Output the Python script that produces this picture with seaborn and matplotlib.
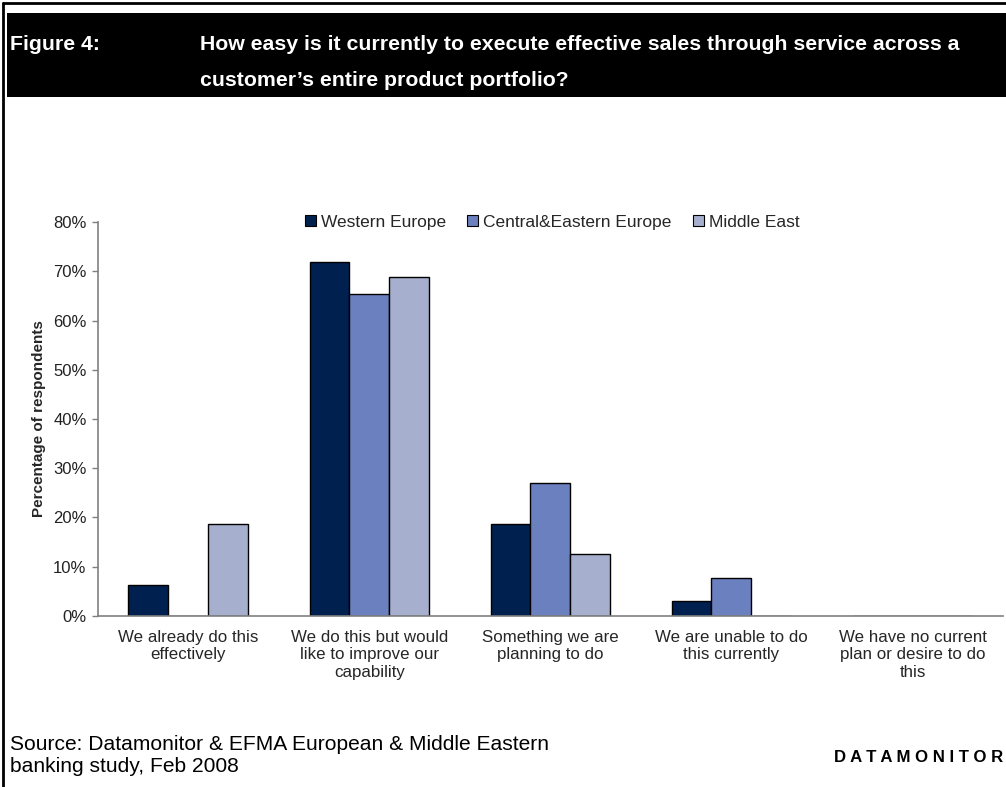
import matplotlib
matplotlib.use("Agg")
import matplotlib.pyplot as plt
from matplotlib.patches import Rectangle
from matplotlib.lines import Line2D
import seaborn as sns
import pandas as pd
import numpy as np

categories = [
    "We already do this\neffectively",
    "We do this but would\nlike to improve our\ncapability",
    "Something we are\nplanning to do",
    "We are unable to do\nthis currently",
    "We have no current\nplan or desire to do\nthis",
]
regions = ["Western Europe", "Central&Eastern Europe", "Middle East"]
western_europe = [6.25, 71.875, 18.75, 3.125, 0.0]
central_eastern_europe = [0.0, 65.38, 26.92, 7.69, 0.0]
middle_east = [18.75, 68.75, 12.5, 0.0, 0.0]
colors = ["#00214F", "#6B80BF", "#A6AFCD"]
yticks = [0, 10, 20, 30, 40, 50, 60, 70, 80]

sns.set_theme(style="white")
plt.rcParams["font.family"] = ["Liberation Sans", "DejaVu Sans"]

df = pd.DataFrame({
    "category": categories * 3,
    "region": np.repeat(regions, len(categories)),
    "value": western_europe + central_eastern_europe + middle_east,
})

fig = plt.figure(figsize=(10.06, 7.87), dpi=100)
ax = fig.add_axes([0.0971, 0.2173, 0.8999, 0.5006])

sns.barplot(data=df, x="category", y="value", hue="region", order=categories,
            hue_order=regions, palette=colors, width=0.66, gap=0,
            edgecolor="black", linewidth=1.0, saturation=1, ax=ax, legend=False)

ax.set_ylim(0, 80)
ax.set_xlim(-0.5, len(categories) - 0.5)
ax.set_yticks(yticks)
ax.set_yticklabels([f"{v}%" for v in yticks], fontsize=12, color="#222222")
ax.set_xticks(range(len(categories)))
ax.set_xticklabels(categories, fontsize=12.2, linespacing=1.2)
ax.set_xticks(np.arange(-0.5, len(categories)), minor=True)
ax.tick_params(axis="x", which="major", length=0, pad=10)
ax.tick_params(axis="x", which="minor", length=4, color="#808080", width=1, direction="out")
ax.tick_params(axis="y", length=4, color="#808080", width=1, direction="out", pad=4, left=True)
ax.set_xlabel("")
ax.set_ylabel("Percentage of respondents", fontsize=11, fontweight="bold", labelpad=5)
for side in ("top", "right"):
    ax.spines[side].set_visible(False)
for side in ("left", "bottom"):
    ax.spines[side].set_color("#808080")
    ax.spines[side].set_linewidth(1.2)

handles = [Rectangle((0, 0), 1, 1, facecolor=c, edgecolor="black", linewidth=0.8) for c in colors]
ax.legend(handles, regions, loc="center", bbox_to_anchor=(0.502, 1.0), ncol=3,
          frameon=False, fontsize=12.5, handlelength=0.65, handleheight=0.65,
          handletextpad=0.3, columnspacing=1.2)

# Frame and title band
fig.add_artist(Line2D([3 / 1006, 3 / 1006], [0, 1 - 3 / 787], color="black", lw=2,
                      transform=fig.transFigure))
fig.add_artist(Line2D([3 / 1006, 1], [1 - 3 / 787, 1 - 3 / 787], color="black", lw=2,
                      transform=fig.transFigure))
fig.add_artist(Rectangle((7 / 1006, 1 - 97 / 787), 1 - 7 / 1006, 84 / 787,
                         facecolor="black", edgecolor="none", transform=fig.transFigure))
fig.text(10 / 1006, 1 - 45 / 787, "Figure 4:", color="white", fontsize=15.3,
         fontweight="bold", va="center", ha="left")
fig.text(200 / 1006, 1 - 45 / 787,
         "How easy is it currently to execute effective sales through service across a",
         color="white", fontsize=15.3, fontweight="bold", va="center", ha="left")
fig.text(200 / 1006, 1 - 81 / 787, "customer\u2019s entire product portfolio?",
         color="white", fontsize=15.3, fontweight="bold", va="center", ha="left")

fig.text(10 / 1006, 1 - 745 / 787, "Source: Datamonitor & EFMA European & Middle Eastern",
         fontsize=15.1, va="center", ha="left", color="black")
fig.text(10 / 1006, 1 - 767 / 787, "banking study, Feb 2008",
         fontsize=15.1, va="center", ha="left", color="black")
fig.text(1003 / 1006, 1 - 757 / 787, "D A T A M O N I T O R", fontsize=12.1,
         fontweight="bold", va="center", ha="right", color="black")

fig.savefig("out.png", dpi=100, facecolor="white")
